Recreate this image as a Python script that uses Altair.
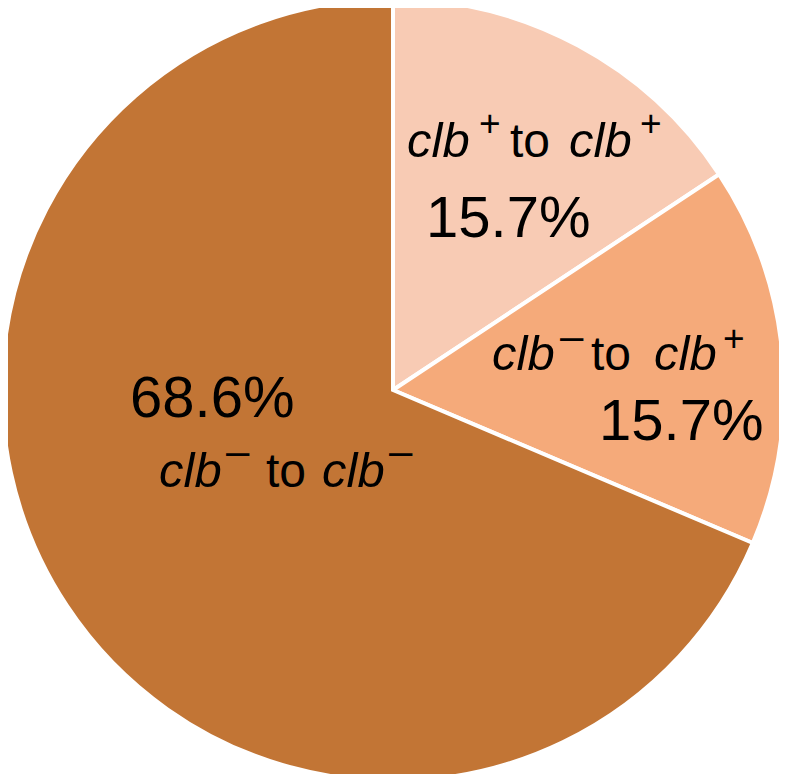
import altair as alt
import pandas as pd

# ---- data ----
categories = ["clb+ to clb+", "clb- to clb+", "clb- to clb-"]
shares = [15.7, 15.7, 68.6]
slice_order = [0, 1, 2]
colors = ["#F8CBB4", "#F5AA7A", "#C27535"]
pct_labels = ["15.7%", "15.7%", "68.6%"]

# label fragments (italic gene name, superscript sign, "to", gene name, sign)
frag_label1 = ["clb", "+", "to", "clb", "+"]
frag_label2 = ["clb", "\u2013", "to", "clb", "+"]
frag_label3 = ["clb", "\u2013", "to", "clb", "\u2013"]

df = pd.DataFrame({"category": categories, "share": shares, "order": slice_order})

FONT = "Liberation Sans, Arial, Helvetica, sans-serif"
OFF = 8  # page margin

pie = alt.Chart(df).mark_arc(radius=391, stroke="white", strokeWidth=4).encode(
    theta=alt.Theta("share:Q", stack=True),
    color=alt.Color("category:N", scale=alt.Scale(domain=categories, range=colors), legend=None),
    order=alt.Order("order:Q"),
)

one = pd.DataFrame({"k": [0]})


def frag(text, x, y, size, italic=False):
    return alt.Chart(one).mark_text(
        text=text,
        font=FONT,
        fontSize=size,
        fontStyle="italic" if italic else "normal",
        align="left",
        baseline="alphabetic",
        color="black",
    ).encode(x=alt.value(x - OFF), y=alt.value(y - OFF))


def gene_line(frags, xs, base_y, sup_ys):
    layers = []
    for i, (t, x) in enumerate(zip(frags, xs)):
        if i in (0, 3):
            layers.append(frag(t, x, base_y, 49, italic=True))
        elif i == 2:
            layers.append(frag(t, x, base_y, 48))
        else:
            sy = sup_ys[0] if i == 1 else sup_ys[1]
            size = 37 if t == "+" else 42
            layers.append(frag(t, x, sy, size))
    return layers


layers = [pie]
layers += gene_line(frag_label1, [407, 479, 510, 569, 640], 157, [136, 136])
layers += gene_line(frag_label2, [492, 560, 591, 654, 723], 370, [350, 351])
layers += gene_line(frag_label3, [159, 226, 266, 322, 389], 487, [465, 465])
layers.append(frag(pct_labels[0], 426, 237, 58))
layers.append(frag(pct_labels[1], 599, 440, 58))
layers.append(frag(pct_labels[2], 130, 417, 58))

chart = alt.layer(*layers).properties(
    width=770,
    height=764,
    padding={"left": 0, "top": 0, "right": 1, "bottom": 2},
    autosize=alt.AutoSizeParams(type="none"),
).configure_view(stroke=None)

chart.save("out.html", embed_options={"renderer": "svg", "actions": False})
